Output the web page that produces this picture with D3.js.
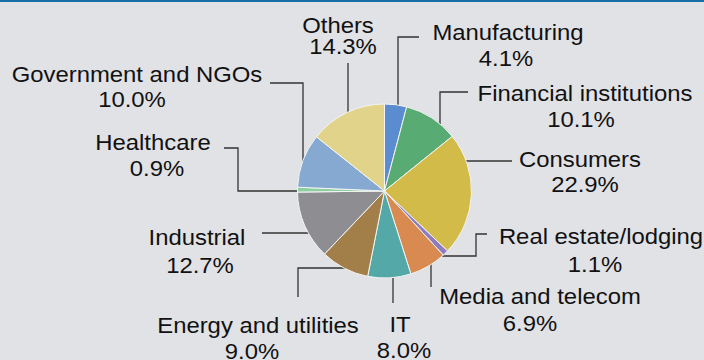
<!doctype html>
<html>
<head>
    <meta charset="utf-8">
    <script src="https://d3js.org/d3.v7.min.js"></script>
</head>
<style>
    body { margin: 0; background: #e1e2e5; }
    svg text {
        fill: #111;
        font: 22px "Liberation Sans", Arial, Helvetica, sans-serif;
        text-anchor: middle;
    }
</style>
<body>
<script>
    var categories = ["Manufacturing", "Financial institutions", "Consumers", "Real estate/lodging",
        "Media and telecom", "IT", "Energy and utilities", "Industrial", "Healthcare",
        "Government and NGOs", "Others"];
    var shares = [4.1, 10.1, 22.9, 1.1, 6.9, 8.0, 9.0, 12.7, 0.9, 10.0, 14.3];
    var colors = ["#5b8ccf", "#58ab73", "#d2bb48", "#8f7cc0", "#d88a50", "#54a8a7",
        "#a27f49", "#8e8e92", "#8ecf9f", "#86a9d1", "#e1d38a"];

    // label placement: [name x, name baseline, value x, value baseline]
    var labelPos = [
        [508, 40, 506, 66],
        [585, 101, 581, 127],
        [580, 167, 585, 192],
        [601, 244, 595, 272],
        [540, 304, 530, 331],
        [400, 332, 404, 358],
        [258, 333, 252, 359],
        [197, 245, 200, 273],
        [153, 150, 157, 176],
        [137, 82, 132, 107],
        [338, 33, 343, 54]
    ];
    // leader lines: bends from label side, last leg goes to pie ("h" or "v")
    var leaders = [
        [[[419, 37], [398, 37]], "v"],
        [[[468, 92], [440, 92]], "v"],
        [[[512, 161]], "h"],
        [[[487, 234], [476, 234], [476, 256]], "h"],
        [[[431, 287]], "v"],
        [[[393, 303]], "v"],
        [[[298, 297], [298, 268]], "h"],
        [[[262, 233]], "h"],
        [[[224, 148], [238, 148], [238, 191]], "h"],
        [[[270, 83], [303, 83]], "v"],
        [[[348, 63]], "v"]
    ];

    var width = 704, height = 360,
        cx = 384.5, cy = 191, radius = 87,
        xScale = 1.085;

    var svg = d3.select("body").append("svg")
        .attr("width", width)
        .attr("height", height);

    svg.append("rect")
        .attr("width", width).attr("height", height)
        .attr("fill", "#e1e2e5");
    svg.append("rect")
        .attr("width", width).attr("height", 2)
        .attr("fill", "#1670a6");

    var data = categories.map(function (c, i) { return { name: c, value: shares[i], i: i }; });

    // leader lines (under the pie)
    var line = d3.line();
    svg.selectAll("path.leader")
        .data(data)
        .enter().append("path")
        .attr("class", "leader")
        .attr("fill", "none")
        .attr("stroke", "#333")
        .attr("stroke-width", 1.3)
        .attr("d", function (d) {
            var pts = leaders[d.i][0].slice(), dir = leaders[d.i][1];
            var last = pts[pts.length - 1], end;
            if (dir == "v") {
                var dy = Math.sqrt(radius * radius - Math.pow(last[0] - cx, 2)) - 1;
                end = [last[0], last[1] < cy ? cy - dy : cy + dy];
            } else {
                var dx = Math.sqrt(radius * radius - Math.pow(last[1] - cy, 2)) - 1;
                end = [last[0] < cx ? cx - dx : cx + dx, last[1]];
            }
            pts.push(end);
            return line(pts);
        });

    var pie = d3.pie().sort(null).value(function (d) { return d.value; });
    var arc = d3.arc().innerRadius(0).outerRadius(radius);

    svg.append("g")
        .attr("transform", "translate(" + cx + "," + cy + ")")
        .selectAll("path")
        .data(pie(data))
        .enter().append("path")
        .attr("d", arc)
        .attr("fill", function (d) { return colors[d.data.i]; })
        .attr("stroke", "#f4f4f4")
        .attr("stroke-width", 1);

    // labels
    var lab = svg.selectAll("g.label")
        .data(data)
        .enter().append("g")
        .attr("class", "label");

    lab.append("text")
        .attr("transform", function (d) {
            var p = labelPos[d.i];
            return "translate(" + p[0] + "," + p[1] + ") scale(" + xScale + ",1)";
        })
        .text(function (d) { return d.name; });

    lab.append("text")
        .attr("transform", function (d) {
            var p = labelPos[d.i];
            return "translate(" + p[2] + "," + p[3] + ") scale(" + xScale + ",1)";
        })
        .text(function (d) { return d.value.toFixed(1) + "%"; });
</script>
</body>
</html>
